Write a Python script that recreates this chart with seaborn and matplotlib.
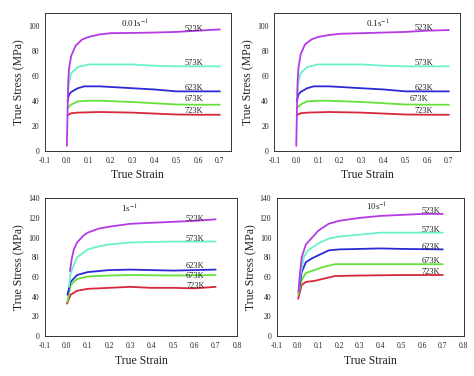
import matplotlib
matplotlib.use("Agg")
import matplotlib.pyplot as plt
import seaborn as sns
import pandas as pd
from matplotlib.ticker import MultipleLocator

sns.set_style("white")
plt.rcParams['font.family'] = ['Liberation Serif', 'DejaVu Serif']
plt.rcParams['mathtext.fontset'] = 'stix'

temps = ["523K", "573K", "623K", "673K", "723K"]
colors = ["#b53ae6", "#6af0cc", "#2a2ad6", "#66e03a", "#d6283a"]
rates = ["0.01s$^{-1}$", "0.1s$^{-1}$", "1s$^{-1}$", "10s$^{-1}$"]

# ---- 0.01 s^-1 ----
r1_523_x = [0.0, 0.003, 0.006, 0.01, 0.02, 0.04, 0.07, 0.1, 0.15, 0.2, 0.3, 0.4, 0.5, 0.6, 0.7]
r1_523_y = [4, 30, 55, 66, 76, 84, 89, 91, 93, 94, 94.2, 94.5, 95, 96, 97]
r1_573_x = [0.004, 0.01, 0.02, 0.05, 0.1, 0.2, 0.3, 0.4, 0.5, 0.6, 0.7]
r1_573_y = [45, 55, 62, 67, 69, 69, 69, 68, 67.5, 67.5, 67.5]
r1_623_x = [0.003, 0.01, 0.02, 0.05, 0.08, 0.15, 0.3, 0.4, 0.5, 0.6, 0.7]
r1_623_y = [40, 45, 47, 50, 51.5, 51.5, 50, 49, 47.5, 47.5, 47.5]
r1_673_x = [0.003, 0.02, 0.05, 0.1, 0.15, 0.3, 0.4, 0.5, 0.6, 0.7]
r1_673_y = [34, 37, 39.5, 40, 40, 39, 38, 37, 36.8, 36.8]
r1_723_x = [0.003, 0.02, 0.05, 0.15, 0.3, 0.5, 0.6, 0.7]
r1_723_y = [28.5, 30, 30.5, 31, 30.5, 29, 28.8, 28.8]

# ---- 0.1 s^-1 ----
r2_523_x = [0.0, 0.003, 0.006, 0.01, 0.02, 0.04, 0.07, 0.1, 0.15, 0.2, 0.3, 0.4, 0.5, 0.6, 0.7]
r2_523_y = [4, 30, 55, 66, 77, 85, 89, 91, 92.5, 93.5, 94, 94.5, 95, 96, 96.5]
r2_573_x = [0.004, 0.01, 0.02, 0.05, 0.1, 0.2, 0.3, 0.4, 0.5, 0.6, 0.7]
r2_573_y = [45, 55, 62, 67, 69, 69, 69, 68, 67.5, 67.5, 67.5]
r2_623_x = [0.003, 0.01, 0.02, 0.05, 0.08, 0.15, 0.3, 0.4, 0.5, 0.6, 0.7]
r2_623_y = [40, 45, 47, 50, 51.5, 51.5, 50, 49, 47.5, 47.5, 47.5]
r2_673_x = [0.003, 0.02, 0.05, 0.1, 0.15, 0.3, 0.4, 0.5, 0.6, 0.7]
r2_673_y = [34, 37, 39.5, 40, 40, 39, 38, 37, 36.8, 36.8]
r2_723_x = [0.003, 0.02, 0.05, 0.15, 0.3, 0.5, 0.6, 0.7]
r2_723_y = [28.5, 30, 30.5, 31, 30.5, 29, 28.8, 28.8]

# ---- 1 s^-1 ----
r3_523_x = [0.017, 0.025, 0.035, 0.05, 0.08, 0.1, 0.15, 0.2, 0.3, 0.4, 0.5, 0.6, 0.7]
r3_523_y = [66, 78, 88, 95, 102, 105, 109, 111, 114, 115, 116, 117, 118.5]
r3_573_x = [0.012, 0.02, 0.05, 0.1, 0.15, 0.2, 0.3, 0.4, 0.5, 0.6, 0.7]
r3_573_y = [50, 64, 80, 88, 91, 93, 95, 95.5, 96, 96, 96]
r3_623_x = [0.005, 0.02, 0.05, 0.1, 0.2, 0.3, 0.4, 0.5, 0.6, 0.7]
r3_623_y = [42, 55, 62, 65, 67, 67.5, 67, 66.5, 67, 67.5]
r3_673_x = [0.005, 0.02, 0.05, 0.1, 0.2, 0.3, 0.5, 0.7]
r3_673_y = [35, 52, 58, 60.5, 61.5, 62, 61.5, 62]
r3_723_x = [0.003, 0.02, 0.05, 0.1, 0.2, 0.3, 0.4, 0.5, 0.6, 0.7]
r3_723_y = [33, 42, 46, 48, 49, 50, 49, 49, 48.5, 50]

# ---- 10 s^-1 ----
r4_523_x = [0.005, 0.01, 0.02, 0.04, 0.07, 0.1, 0.15, 0.2, 0.3, 0.4, 0.5, 0.6, 0.7]
r4_523_y = [45, 60, 80, 93, 100, 107, 114, 117, 120, 122, 123, 124, 124]
r4_573_x = [0.005, 0.01, 0.03, 0.05, 0.1, 0.15, 0.2, 0.3, 0.4, 0.5, 0.6, 0.7]
r4_573_y = [45, 58, 80, 87, 94, 99, 101, 103, 105, 105, 105, 105]
r4_623_x = [0.005, 0.02, 0.04, 0.07, 0.1, 0.15, 0.2, 0.3, 0.4, 0.5, 0.7]
r4_623_y = [45, 65, 75, 79, 82, 87, 88, 88.5, 89, 88.5, 88]
r4_673_x = [0.003, 0.02, 0.04, 0.08, 0.12, 0.18, 0.3, 0.5, 0.7]
r4_673_y = [42, 57, 64, 67, 70, 73, 73, 73, 73]
r4_723_x = [0.003, 0.02, 0.04, 0.08, 0.12, 0.18, 0.3, 0.5, 0.7]
r4_723_y = [38, 52, 55, 56, 58, 61, 61.5, 62, 62]

series = [
    [(r1_523_x, r1_523_y), (r1_573_x, r1_573_y), (r1_623_x, r1_623_y), (r1_673_x, r1_673_y), (r1_723_x, r1_723_y)],
    [(r2_523_x, r2_523_y), (r2_573_x, r2_573_y), (r2_623_x, r2_623_y), (r2_673_x, r2_673_y), (r2_723_x, r2_723_y)],
    [(r3_523_x, r3_523_y), (r3_573_x, r3_573_y), (r3_623_x, r3_623_y), (r3_673_x, r3_673_y), (r3_723_x, r3_723_y)],
    [(r4_523_x, r4_523_y), (r4_573_x, r4_573_y), (r4_623_x, r4_623_y), (r4_673_x, r4_673_y), (r4_723_x, r4_723_y)],
]

# label anchor points (strain, stress) per panel
label_pos = [
    [(0.537, 97.5), (0.537, 70.5), (0.537, 50.5), (0.537, 41.5), (0.537, 31.4)],
    [(0.542, 97.8), (0.542, 70.5), (0.542, 50.5), (0.52, 41.2), (0.542, 31.6)],
    [(0.561, 119), (0.561, 98.7), (0.561, 70.7), (0.561, 61.5), (0.561, 51)],
    [(0.596, 126.5), (0.596, 108), (0.596, 90.3), (0.596, 75.8), (0.596, 64.6)],
]
title_pos = [(0.31, 101), (0.373, 101), (0.297, 129), (0.382, 131.5)]

axes_rects = [
    [0.095, 0.599, 0.392, 0.366],
    [0.579, 0.599, 0.391, 0.366],
    [0.095, 0.106, 0.405, 0.367],
    [0.584, 0.106, 0.394, 0.367],
]
xlims = [(-0.1, 0.75), (-0.1, 0.75), (-0.1, 0.8), (-0.1, 0.8)]
ylims = [(0, 110), (0, 110), (0, 140), (0, 140)]
yticks_step = [20, 20, 20, 20]

fig = plt.figure(figsize=(4.74, 3.76), dpi=100)

for p in range(4):
    ax = fig.add_axes(axes_rects[p])
    rows = []
    for t, (xs, ys) in zip(temps, series[p]):
        for xv, yv in zip(xs, ys):
            rows.append({"strain": xv, "stress": yv, "T": t})
    df = pd.DataFrame(rows)
    # draw in reverse so 523K sits on top
    for t, c in list(zip(temps, colors))[::-1]:
        sns.lineplot(data=df[df["T"] == t], x="strain", y="stress", color=c,
                     lw=1.3, sort=False, estimator=None, ax=ax, legend=False)
    ax.set_xlim(*xlims[p])
    ax.set_ylim(*ylims[p])
    ax.xaxis.set_major_locator(MultipleLocator(0.1))
    ax.xaxis.set_minor_locator(MultipleLocator(0.05))
    ax.yaxis.set_major_locator(MultipleLocator(yticks_step[p]))
    ax.yaxis.set_minor_locator(MultipleLocator(10))
    ax.tick_params(which="both", direction="in", labelsize=5.5, width=0.6,
                   labelcolor="#222222")
    ax.tick_params(axis="x", pad=4.5)
    ax.tick_params(axis="y", pad=4)
    ax.tick_params(which="major", length=2.5)
    ax.tick_params(which="minor", length=1.5)
    ax.xaxis.set_major_formatter(matplotlib.ticker.FormatStrFormatter("%.1f"))
    for s in ax.spines.values():
        s.set_linewidth(0.7)
        s.set_color("#333333")
    ax.set_xlabel("True Strain", fontsize=8.5, labelpad=3, color="#222222")
    ax.set_ylabel("True Stress (MPa)", fontsize=8.5, labelpad=2, color="#222222")
    for t, (lx, ly) in zip(temps, label_pos[p]):
        ax.text(lx, ly, t, fontsize=6, va="center", ha="left", color="#222222")
    tx, ty = title_pos[p]
    ax.text(tx, ty, rates[p], fontsize=6.5, va="center", ha="center", color="#222222")

fig.savefig("out.png", dpi=100)
